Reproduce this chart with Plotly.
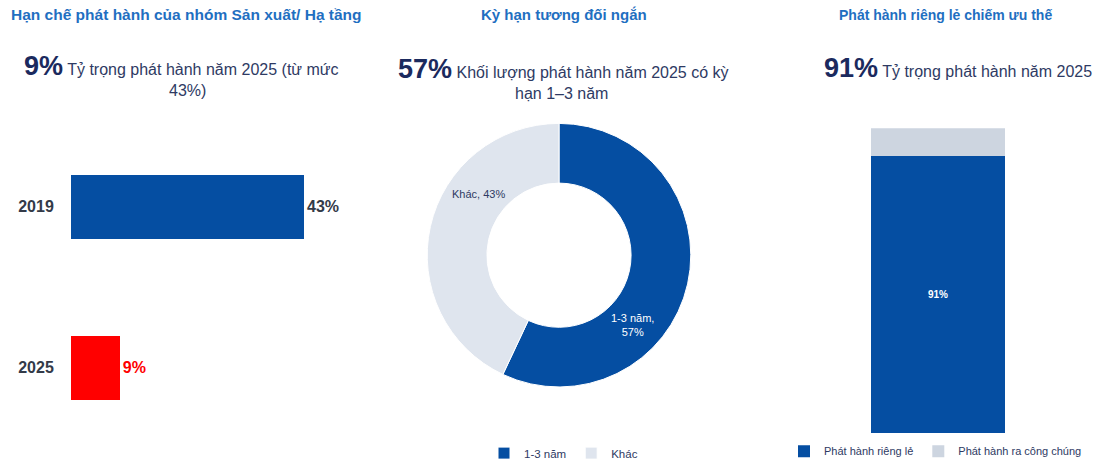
import plotly.graph_objects as go

W, H = 1096, 468

# ---------------- data ----------------
panel_titles = ["Hạn chế phát hành của nhóm Sản xuất/ Hạ tầng",
                "Kỳ hạn tương đối ngắn",
                "Phát hành riêng lẻ chiếm ưu thế"]

# Panel 1
years = ["2019", "2025"]
share_mfg = [43, 9]
head1_value = "9%"
head1_text = ["Tỷ trọng phát hành năm 2025 (từ mức", "43%)"]

# Panel 2
tenor_labels = ["1-3 năm", "Khác"]
tenor_values = [57, 43]
head2_value = "57%"
head2_text = ["Khối lượng phát hành năm 2025 có kỳ", "hạn 1–3 năm"]

# Panel 3
issue_types = ["Phát hành riêng lẻ", "Phát hành ra công chúng"]
issue_values = [91, 9]
head3_value = "91%"
head3_text = ["Tỷ trọng phát hành năm 2025"]

# ---------------- styles ----------------
FONT = "Liberation Sans, Arial, sans-serif"
BLUE = "#054EA2"
RED = "#FF0000"
LIGHT = "#DFE5EE"
GREY = "#CDD5E0"
TITLE_C = "#1F6FC1"
NAVY = "#1B2A5E"
TEXT_C = "#2E3A63"
DARK = "#333A48"


def px(x):
    return x / W


def py(y):
    return 1 - y / H


fig = go.Figure()

# Panel 1: horizontal bars
fig.add_trace(go.Bar(
    x=share_mfg, y=years, orientation="h",
    marker=dict(color=[BLUE, RED], line=dict(width=0)),
    width=0.4,
    text=[f"{v}%" for v in share_mfg], textposition="outside",
    textfont=dict(family=FONT, size=16, color=[DARK, RED]),
    texttemplate="<b>%{text}</b>",
    cliponaxis=False, showlegend=False, hoverinfo="skip",
    xaxis="x", yaxis="y",
))

# Panel 2: donut
fig.add_trace(go.Pie(
    labels=tenor_labels, values=tenor_values,
    hole=0.547, sort=False, direction="clockwise", rotation=0,
    marker=dict(colors=[BLUE, LIGHT], line=dict(color="white", width=1)),
    textinfo="none", hoverinfo="skip",
    domain=dict(x=[px(425), px(693)], y=[py(392), py(125)]),
    legend="legend",
))

# Panel 3: stacked column
bar3_colors = [BLUE, GREY]
for i, (name, val) in enumerate(zip(issue_types, issue_values)):
    fig.add_trace(go.Bar(
        x=["2025"], y=[val], name=name,
        marker=dict(color=bar3_colors[i], line=dict(width=0)),
        width=1,
        text=[f"{val}%"] if i == 0 else None,
        texttemplate="<b>%{text}</b>" if i == 0 else None,
        textposition="inside" if i == 0 else "none",
        insidetextanchor="middle",
        textfont=dict(family=FONT, size=10, color="white"),
        hoverinfo="skip", xaxis="x2", yaxis="y2", legend="legend2",
    ))

annotations = []
# titles
for t, cx, fs in zip(panel_titles, [186, 564, 945], [15.5, 15, 14]):
    annotations.append(dict(text=f"<b>{t}</b>", x=px(cx), y=py(15), xref="paper", yref="paper",
                            showarrow=False, xanchor="center", yanchor="middle",
                            font=dict(family=FONT, size=fs, color=TITLE_C)))

# headlines
def headline(value, lines, cx, y1, y2, cx2):
    annotations.append(dict(
        text=f"<b><span style='font-size:27px;color:{NAVY}'>{value}</span></b> {lines[0]}",
        x=px(cx), y=py(y1), xref="paper", yref="paper", showarrow=False,
        xanchor="center", yanchor="middle", font=dict(family=FONT, size=16, color=TEXT_C)))
    if len(lines) > 1:
        annotations.append(dict(
            text=lines[1], x=px(cx2), y=py(y2), xref="paper", yref="paper", showarrow=False,
            xanchor="center", yanchor="middle", font=dict(family=FONT, size=16, color=TEXT_C)))

headline(head1_value, head1_text, 181, 67, 92, 187)
headline(head2_value, head2_text, 563, 70, 95, 561)
headline(head3_value, head3_text, 958, 69, 0, 0)

# donut labels
donut_label_pos = [(632, 329, "white"), (478, 197, TEXT_C)]
for (lx, ly, col), lab, val in zip(donut_label_pos, tenor_labels, tenor_values):
    txt = f"{lab},<br>{val}%" if col == "white" else f"{lab}, {val}%"
    annotations.append(dict(text=txt, x=px(lx), y=py(ly), xref="paper", yref="paper",
                            showarrow=False, xanchor="center", yanchor="middle",
                            font=dict(family=FONT, size=11, color=col)))

# panel 1 axis: 0..43 maps to 71..304 px
scale = (304 - 71) / 43
x1_end = 340
fig.update_layout(
    width=W, height=H,
    margin=dict(l=0, r=0, t=0, b=0),
    paper_bgcolor="white", plot_bgcolor="white",
    font=dict(family=FONT),
    xaxis=dict(domain=[px(71), px(x1_end)], range=[0, (x1_end - 71) / scale],
               visible=False, fixedrange=True),
    yaxis=dict(domain=[py(454), py(128)], range=[1.5, -0.5], type="category",
               showgrid=False, zeroline=False, showline=False,
               ticks="outside", ticklen=13, tickcolor="rgba(0,0,0,0)",
               tickfont=dict(family=FONT, size=16, color=DARK),
               tickprefix="<b>", ticksuffix="</b>", fixedrange=True, anchor="x"),
    xaxis2=dict(domain=[px(871), px(1005)], range=[-0.5, 0.5], visible=False, anchor="y2"),
    yaxis2=dict(domain=[py(439), py(130)], range=[0, 100], visible=False, anchor="x2"),
    barmode="stack",
    legend=dict(orientation="h", x=px(484), y=py(459), xanchor="left", yanchor="middle",
                font=dict(family=FONT, size=11.5, color=TEXT_C), itemwidth=30,
                bgcolor="rgba(0,0,0,0)", traceorder="normal"),
    legend2=dict(orientation="h", x=px(784), y=py(457), xanchor="left", yanchor="middle",
                 font=dict(family=FONT, size=11, color=TEXT_C), itemwidth=30,
                 bgcolor="rgba(0,0,0,0)", traceorder="normal"),
    annotations=annotations,
)

fig.write_html("out.html")
